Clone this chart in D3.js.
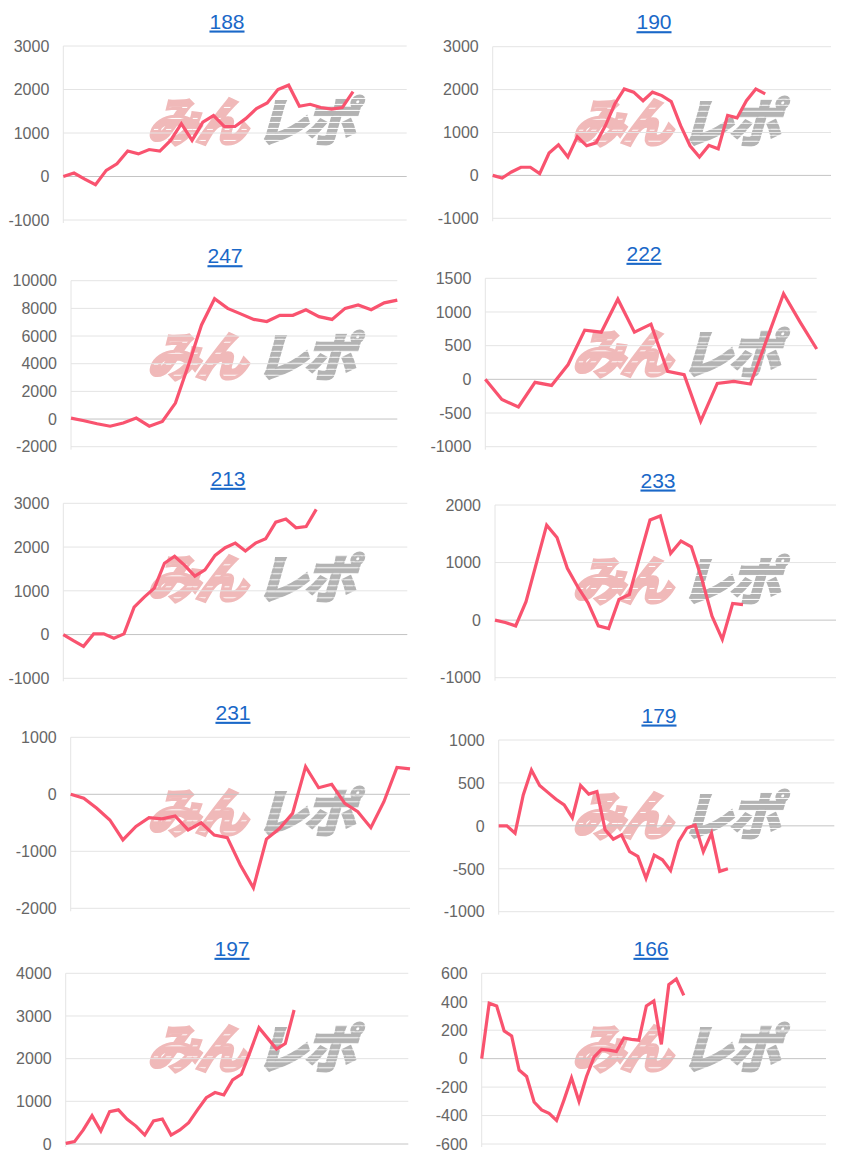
<!DOCTYPE html>
<html><head><meta charset="utf-8">
<script src="https://cdn.jsdelivr.net/npm/d3@7/dist/d3.min.js"></script>
<style>body{margin:0;background:#fff}</style>
</head><body><svg id="c" width="852" height="1160"></svg>
<script>
// ---- data ----
const titles = ["188","190","247","222","213","233","231","179","197","166"];
const labelCounts = [33, 37, 26, 21, 35, 34, 27, 42, 40, 47];
const s188 = [0, 80, -60, -190, 140, 290, 585, 520, 620, 585, 830, 1215, 830, 1250, 1400, 1150, 1150, 1330, 1560, 1690, 2000, 2100, 1615, 1660, 1585, 1550, 1585, 1950];
const s190 = [0, -60, 80, 190, 190, 40, 520, 715, 430, 900, 690, 760, 1160, 1670, 2015, 1940, 1740, 1940, 1860, 1720, 1160, 690, 430, 700, 620, 1400, 1340, 1740, 2015, 1900];
const s247 = [70, -120, -340, -520, -290, 70, -520, -170, 1150, 3900, 6800, 8700, 8000, 7600, 7200, 7050, 7500, 7500, 7900, 7400, 7200, 8000, 8250, 7900, 8400, 8600];
const s222 = [0, -300, -410, -45, -90, 220, 730, 700, 1190, 700, 820, 120, 70, -620, -60, -30, -70, 600, 1270, 850, 450];
const s213 = [0, -140, -270, 15, 15, -85, 15, 625, 855, 1060, 1630, 1790, 1580, 1335, 1480, 1810, 1985, 2090, 1910, 2090, 2190, 2570, 2640, 2440, 2470, 2860];
const s233 = [0, -40, -100, 320, 985, 1650, 1435, 900, 580, 300, -100, -145, 360, 445, 1100, 1740, 1810, 1160, 1375, 1275, 725, 70, -335, 290, 270];
const s231 = [0, -70, -245, -450, -800, -565, -410, -430, -380, -625, -500, -715, -760, -1240, -1640, -785, -600, -335, 485, 115, 175, -160, -305, -585, -130, 470, 445];
const s179 = [0, 0, -85, 360, 650, 470, 390, 310, 245, 95, 470, 370, 400, -45, -155, -105, -300, -355, -610, -340, -395, -520, -180, -25, 10, -300, -85, -530, -500];
const s197 = [15, 55, 330, 665, 305, 760, 800, 580, 420, 210, 540, 585, 210, 330, 500, 800, 1085, 1205, 1150, 1500, 1635, 2165, 2725, 2475, 2225, 2355, 3140];
const s166 = [0, 390, 370, 195, 160, -80, -125, -305, -360, -385, -435, -290, -135, -300, -125, 10, 65, 60, 50, 145, 135, 130, 370, 405, 100, 520, 560, 445];
const ticks188 = [-1000, 0, 1000, 2000, 3000];
const ticks190 = [-1000, 0, 1000, 2000, 3000];
const ticks247 = [-2000, 0, 2000, 4000, 6000, 8000, 10000];
const ticks222 = [-1000, -500, 0, 500, 1000, 1500];
const ticks213 = [-1000, 0, 1000, 2000, 3000];
const ticks233 = [-1000, 0, 1000, 2000];
const ticks231 = [-2000, -1000, 0, 1000];
const ticks179 = [-1000, -500, 0, 500, 1000];
const ticks197 = [0, 1000, 2000, 3000, 4000];
const ticks166 = [-600, -400, -200, 0, 200, 400, 600];
const watermarkA = "みん";
const watermarkB = "レポ";

const seriesList = [s188, s190, s247, s222, s213, s233, s231, s179, s197, s166];
const tickList = [ticks188, ticks190, ticks247, ticks222, ticks213, ticks233, ticks231, ticks179, ticks197, ticks166];

// ---- layout (pixel boxes of each plot area) ----
const boxes = [
  {l: 63.3, r: 406.7, t: 46, b: 220, tx: 227},
  {l: 492.7, r: 831, t: 46.7, b: 218.3, tx: 654},
  {l: 71, r: 397.3, t: 280.7, b: 446.7, tx: 225},
  {l: 485.3, r: 816.7, t: 278.3, b: 446.7, tx: 644},
  {l: 63.3, r: 407.3, t: 503.3, b: 678.3, tx: 228},
  {l: 495, r: 836, t: 505, b: 677.7, tx: 658},
  {l: 70.7, r: 410, t: 737.3, b: 908.3, tx: 233},
  {l: 498.7, r: 834.3, t: 740, b: 911.7, tx: 659},
  {l: 65.7, r: 408.3, t: 973.3, b: 1144, tx: 232},
  {l: 481.7, r: 826, t: 973.3, b: 1144, tx: 651}
];

const svg = d3.select("#c");
const font = "'Liberation Sans', Arial, Helvetica, sans-serif";

// stripe patterns for the watermark
const defs = svg.append("defs");
const pat = defs.append("pattern").attr("id", "stripes").attr("patternUnits", "userSpaceOnUse")
  .attr("width", 8).attr("height", 6);
pat.append("rect").attr("width", 8).attr("height", 5).attr("fill", "#b3b3b3");
const patP = defs.append("pattern").attr("id", "stripesP").attr("patternUnits", "userSpaceOnUse")
  .attr("width", 8).attr("height", 11);
patP.append("rect").attr("width", 8).attr("height", 10).attr("fill", "#f0b9b9");

boxes.forEach((bx, i) => {
  const data = seriesList[i];
  const ticks = tickList[i];
  const N = labelCounts[i];
  const x = d3.scaleLinear().domain([0, N - 1]).range([bx.l, bx.r]);
  const y = d3.scaleLinear().domain(d3.extent(ticks)).range([bx.b, bx.t]);
  const g = svg.append("g");

  // watermark
  const col = i % 2;
  const wx = col === 0 ? 147 : 572;
  const wy = bx.t + 95;
  const wm = g.append("g").attr("transform", `translate(${wx},${wy}) skewX(-16)`);
  wm.append("text").attr("x", 0).attr("y", 0)
    .attr("font-family", "'Noto Sans CJK JP', sans-serif").attr("font-weight", 900)
    .attr("font-size", 52).attr("fill", "url(#stripesP)").attr("stroke", "#f0b9b9")
    .attr("stroke-width", 3).attr("letter-spacing", -4)
    .text(watermarkA);
  wm.append("text").attr("x", 108).attr("y", 0)
    .attr("font-family", "'Noto Sans CJK JP', sans-serif").attr("font-weight", 900)
    .attr("font-size", 52).attr("fill", "url(#stripes)").attr("stroke", "url(#stripes)")
    .attr("stroke-width", 2).attr("letter-spacing", -4)
    .text(watermarkB);

  // grid
  g.selectAll(".grid").data(ticks).join("line")
    .attr("x1", bx.l).attr("x2", bx.r)
    .attr("y1", d => y(d)).attr("y2", d => y(d))
    .attr("stroke", d => d === 0 ? "#c4c4c4" : "#e4e4e4").attr("stroke-width", 1);
  g.append("line").attr("x1", bx.l).attr("x2", bx.l).attr("y1", bx.t).attr("y2", bx.b + 3)
    .attr("stroke", "#e4e4e4").attr("stroke-width", 1);

  // tick labels
  g.selectAll(".tl").data(ticks).join("text")
    .attr("x", bx.l - 14).attr("y", d => y(d)).attr("dy", "0.36em")
    .attr("text-anchor", "end").attr("font-family", font).attr("font-size", 16)
    .attr("fill", "#666").text(d => d);

  // title
  g.append("text").attr("x", bx.tx).attr("y", bx.t - 17.5)
    .attr("text-anchor", "middle").attr("font-family", font).attr("font-size", 21)
    .attr("fill", "#1a68c8").attr("text-decoration", "underline").text(titles[i]);

  // line
  const line = d3.line().x((d, j) => x(j)).y(d => y(d));
  g.append("path").datum(data).attr("d", line)
    .attr("fill", "none").attr("stroke", "#f9536f").attr("stroke-width", 3.2)
    .attr("stroke-linejoin", "miter");
});
</script></body></html>
